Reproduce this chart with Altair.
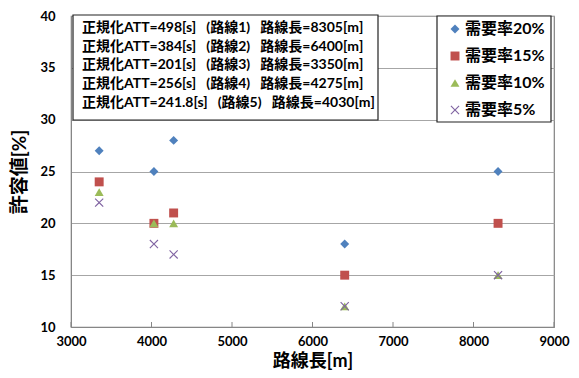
import altair as alt
import pandas as pd

# ---- data ----
routes = ["路線1", "路線2", "路線3", "路線4", "路線5"]
route_length = [8305, 6400, 3350, 4275, 4030]
att = ["498", "384", "201", "256", "241.8"]

series = ["需要率20%", "需要率15%", "需要率10%", "需要率5%"]
demand20 = [25, 18, 27, 28, 25]
demand15 = [20, 15, 24, 21, 20]
demand10 = [15, 12, 23, 20, 20]
demand5 = [15, 12, 22, 17, 18]

x_ticks = [3000, 4000, 5000, 6000, 7000, 8000, 9000]
y_ticks = [10, 15, 20, 25, 30, 35, 40]

colors = ["#4F81BD", "#C0504D", "#9BBB59", "#8064A2"]
x_shape = ("M-1,-0.82L-0.82,-1L0,-0.18L0.82,-1L1,-0.82L0.18,0L1,0.82L0.82,1"
           "L0,0.18L-0.82,1L-1,0.82L-0.18,0Z")
shapes = ["diamond", "square", "triangle-up", x_shape]

rows = []
for s, vals in zip(series, [demand20, demand15, demand10, demand5]):
    for L, v in zip(route_length, vals):
        rows.append({"series": s, "length": L, "value": v})
df = pd.DataFrame(rows)

SP = "\u00a0\u00a0\u00a0"
ann_lines = [f"正規化ATT={a}[s]{SP}({r}){SP}路線長={L}[m]"
             for a, r, L in zip(att, routes, route_length)]

FONT = "Lato, 'Noto Sans CJK JP', sans-serif"
W, H = 483, 311

x_scale = alt.Scale(domain=[3000, 9000], nice=False, zero=False)
y_scale = alt.Scale(domain=[10, 40], nice=False, zero=False)

base = alt.Chart(df)

points = base.mark_point(filled=True, opacity=1, size=80).encode(
    x=alt.X("length:Q", scale=x_scale,
            axis=alt.Axis(values=x_ticks, format="d", grid=False, tickSize=0,
                          labelPadding=8, labelOverlap=False, labelFlush=False,
                          title="路線長[m]", titleFontSize=18, titlePadding=4,
                          domainColor="#868686")),
    y=alt.Y("value:Q", scale=y_scale,
            axis=alt.Axis(values=y_ticks, grid=True, gridColor="#a6a6a6", tickSize=0,
                          labelPadding=16, labelOverlap=False, labelFlush=False,
                          title="許容値[%]", titleFontSize=19,
                          titlePadding=10, domainColor="#868686")),
    color=alt.Color("series:N", scale=alt.Scale(domain=series, range=colors),
                    legend=alt.Legend(orient="none", legendX=376, legendY=5, title=None,
                                      labelFontSize=16, labelFont=FONT, labelFontWeight="bold",
                                      labelColor="black", rowPadding=11, symbolSize=80,
                                      labelOffset=2, padding=0, symbolStrokeWidth=0)),
    shape=alt.Shape("series:N", scale=alt.Scale(domain=series, range=shapes), legend=None),
)

tick_df = pd.DataFrame({"t": x_ticks})
xticks = alt.Chart(tick_df).mark_rule(color="#868686").encode(
    x=alt.X("t:Q", scale=x_scale), y=alt.value(H), y2=alt.value(H - 5))

one = pd.DataFrame({"a": [0]})
ann_box = alt.Chart(one).mark_rect(fill="white", stroke="#222", strokeWidth=1.2).encode(
    x=alt.value(2), x2=alt.value(307), y=alt.value(-1), y2=alt.value(104))
ann_text = alt.Chart(one).mark_text(
    text=ann_lines, align="left", baseline="middle", font=FONT, fontSize=14,
    fontWeight="bold", lineHeight=18.7, color="black").encode(
    x=alt.value(11), y=alt.value(12))
leg_box = alt.Chart(one).mark_rect(fill="white", stroke="#222", strokeWidth=1.2).encode(
    x=alt.value(366), x2=alt.value(480), y=alt.value(0), y2=alt.value(106))

chart = alt.layer(xticks, ann_box, ann_text, leg_box, points).properties(
    width=W, height=H,
    autosize=alt.AutoSizeParams(type="none"),
    padding={"left": 63, "top": 8, "right": 17, "bottom": 43},
).configure_view(stroke="#808080", strokeWidth=1.2).configure_axis(
    labelFont=FONT, labelFontSize=13, labelFontWeight="bold", labelColor="black",
    titleFont=FONT, titleFontWeight="bold", titleColor="black",
)

chart.save("out.html", embed_options={"renderer": "svg", "actions": False})
